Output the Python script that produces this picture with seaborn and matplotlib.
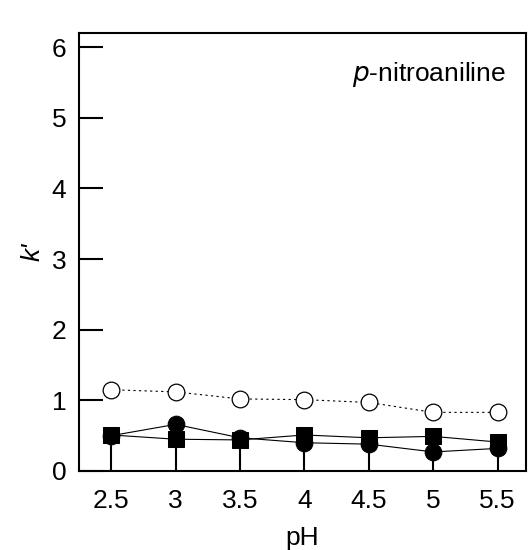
import matplotlib
matplotlib.use("Agg")
import matplotlib.pyplot as plt
import seaborn as sns
import pandas as pd

ph = [2.5, 3, 3.5, 4, 4.5, 5, 5.5]
k_open = [1.15, 1.12, 1.02, 1.01, 0.97, 0.83, 0.83]
k_square = [0.51, 0.45, 0.44, 0.51, 0.47, 0.49, 0.41]
k_circle = [0.50, 0.66, 0.47, 0.40, 0.38, 0.27, 0.32]
xtick_labels = ["2.5", "3", "3.5", "4", "4.5", "5", "5.5"]

sns.set_theme(style="ticks")
plt.rcParams['font.family'] = ['Liberation Sans', 'DejaVu Sans']
plt.rcParams['text.color'] = 'black'
plt.rcParams['axes.labelcolor'] = 'black'
plt.rcParams['xtick.color'] = 'black'
plt.rcParams['ytick.color'] = 'black'

fig = plt.figure(figsize=(5.3, 5.5), dpi=100)
ax = fig.add_axes([79/530, 1 - 471/550, (526-79)/530, (471-33)/550])

df = pd.DataFrame({"pH": ph, "open": k_open, "square": k_square, "circle": k_circle})

sns.lineplot(data=df, x="pH", y="open", ax=ax, color="black", linestyle=(0, (2, 3)),
             linewidth=0.8, marker="o", markersize=12, markerfacecolor="white",
             markeredgecolor="black", markeredgewidth=0.9)
sns.lineplot(data=df, x="pH", y="circle", ax=ax, color="black", linewidth=0.8,
             marker="o", markersize=12, markerfacecolor="black", markeredgecolor="black")
sns.lineplot(data=df, x="pH", y="square", ax=ax, color="black", linewidth=0.8,
             marker="s", markersize=11.5, markerfacecolor="black", markeredgecolor="black")

ax.set_xlim(2.25, 5.72)
ax.set_ylim(0, 6.2)
ax.set_xticks(ph)
ax.set_xticklabels(xtick_labels)
ax.set_yticks([0, 1, 2, 3, 4, 5, 6])
ax.tick_params(axis="y", direction="in", length=17, width=1.5, labelsize=19, pad=9,
               color="black", labelcolor="black")
ax.tick_params(axis="x", direction="in", length=27, width=1.5, labelsize=19, pad=13,
               color="black", labelcolor="black")
for s in ax.spines.values():
    s.set_linewidth(1.5)
    s.set_color("black")
    s.set_visible(True)

ax.set_xlabel("pH", fontsize=19, labelpad=9, color="black")
ax.set_ylabel("k'", fontsize=19, fontstyle="italic", labelpad=5, color="black")
ax.text(0.955, 0.905, r"$\it{p}$-nitroaniline", transform=ax.transAxes, ha="right",
        va="center", fontsize=19, color="black")

fig.savefig("out.png", dpi=100)
